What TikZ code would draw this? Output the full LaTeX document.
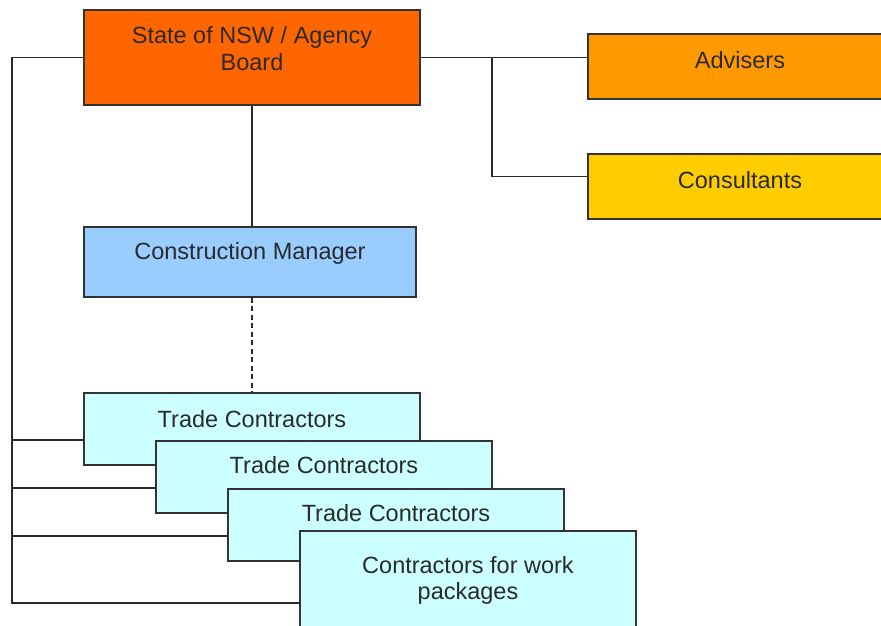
\documentclass[tikz,border=0pt]{standalone}
\usepackage{fontspec}
\setmainfont{Liberation Sans}
\definecolor{ink}{HTML}{2A2A2A}
\definecolor{edge}{HTML}{333333}
\definecolor{boardfill}{HTML}{FF6600}
\definecolor{advfill}{HTML}{FF9900}
\definecolor{consfill}{HTML}{FFCC00}
\definecolor{cmfill}{HTML}{99CCFF}
\definecolor{tcfill}{HTML}{CCFFFF}
\begin{document}
\begin{tikzpicture}[x=1pt,y=-1pt,
  box/.style={draw=edge, line width=1.4pt, inner sep=0pt, rectangle},
  lbl/.style={anchor=base, inner sep=0pt, text=ink,
    font=\fontsize{23.5}{27}\selectfont},
  conn/.style={draw=ink, line width=1.4pt},
  dashconn/.style={conn, dash pattern=on 5pt off 3.5pt}]
\useasboundingbox[fill=white] (0,0) rectangle (881,625);

% bus lines on the left and right
\coordinate (lb) at (12,0);
\coordinate (rb) at (492,0);

% top level
\node[box, fill=boardfill, minimum width=336pt, minimum height=95pt] (state) at (252,57.5) {};
\node[lbl] (state-t1) at (252,43) {State of NSW / Agency};
\node[lbl] (state-t2) at (252,70) {Board};

\node[box, fill=advfill, minimum width=304pt, minimum height=65pt] (adv) at (740,66.5) {};
\node[lbl] (adv-t) at (740,68) {Advisers};

\node[box, fill=consfill, minimum width=304pt, minimum height=65pt] (cons) at (740,186.5) {};
\node[lbl] (cons-t) at (740,188) {Consultants};

\node[box, fill=cmfill, minimum width=332pt, minimum height=70pt] (cm) at (250,262) {};
\node[lbl] (cm-t) at (250,259) {Construction Manager};

% links from the board
\draw[conn] (state.east) -- (state.east -| adv.west);
\draw[conn] (state.east -| rb) |- ([yshift=10pt]cons.west);
\draw[conn] (state.south) -- (state.south |- cm.north);

% stacked contractor boxes
\node[box, fill=tcfill, minimum width=336pt, minimum height=72pt] (tc1) at (252,429) {};
\node[lbl] (tc1-t) at (252,427) {Trade Contractors};
\draw[dashconn] (cm.south -| state.south) -- (tc1.north -| state.south);

\node[box, fill=tcfill, minimum width=336pt, minimum height=72pt] (tc2) at (324,477) {};
\node[lbl] (tc2-t) at (324,473) {Trade Contractors};

\node[box, fill=tcfill, minimum width=336pt, minimum height=72pt] (tc3) at (396,525) {};
\node[lbl] (tc3-t) at (396,521) {Trade Contractors};

\node[box, fill=tcfill, minimum width=336pt, minimum height=144pt] (cw) at (468,603) {};
\node[lbl] (cw-t1) at (468,573) {Contractors for work};
\node[lbl] (cw-t2) at (468,599) {packages};

% left bus feeding every contractor box
\coordinate (tc1w) at ([yshift=-11pt]tc1.west);
\coordinate (tc2w) at ([yshift=-11pt]tc2.west);
\coordinate (tc3w) at ([yshift=-11pt]tc3.west);
\draw[conn] (state.west) -- (state.west -| lb) |- (cw.west);
\draw[conn] (lb |- tc1w) -- (tc1w);
\draw[conn] (lb |- tc2w) -- (tc2w);
\draw[conn] (lb |- tc3w) -- (tc3w);
\end{tikzpicture}
\end{document}
